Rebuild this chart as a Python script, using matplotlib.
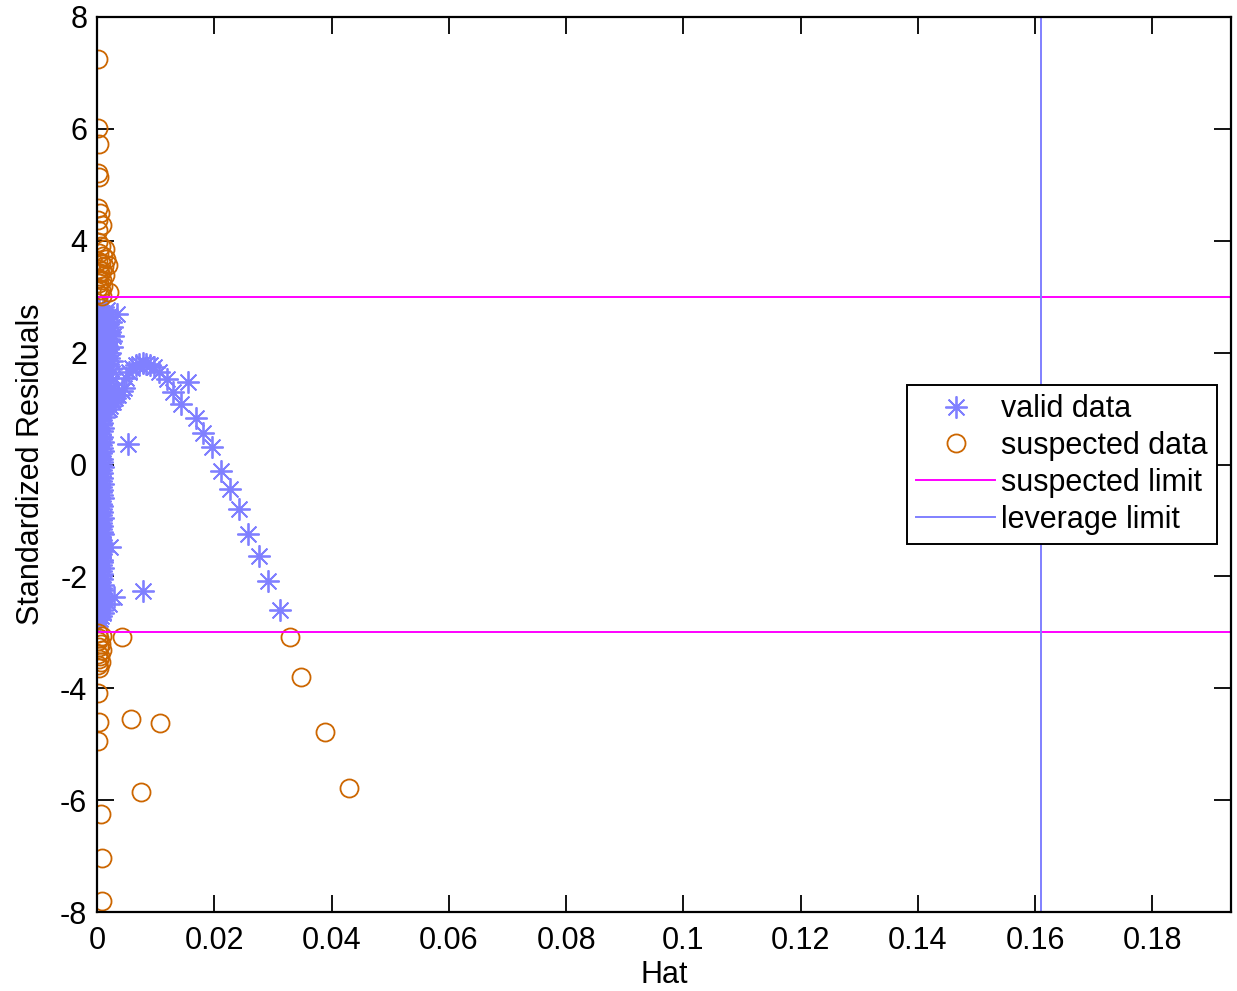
import numpy as np
import matplotlib
matplotlib.use('Agg')
import matplotlib.pyplot as plt
from matplotlib.ticker import FormatStrFormatter

plt.rcParams['font.family'] = ['Liberation Sans', 'DejaVu Sans']
plt.rcParams['axes.unicode_minus'] = False

# dense column of valid points near hat = 0 (residual, outer hat x1e-4, inner hat x1e-4)
col_r = [2.81, 2.76, 2.72, 2.66, 2.61, 2.55, 2.51, 2.45, 2.40, 2.36, 2.30, 2.25, 2.21, 2.15,
         2.10, 2.06, 2.00, 1.95, 1.91, 1.85, 1.80, 1.76, 1.70, 1.65, 1.61, 1.55, 1.50, 1.46,
         1.40, 1.35, 1.31, 1.25, 1.20, 1.16, 1.10, 1.05, 1.00,
         0.95, 0.90, 0.85, 0.80, 0.75, 0.70, 0.65, 0.60, 0.55, 0.50, 0.45, 0.40, 0.35, 0.30,
         0.25, 0.20, 0.15, 0.10, 0.05, 0.00, -0.05, -0.10, -0.15, -0.20, -0.25, -0.30, -0.35,
         -0.40, -0.45, -0.50, -0.55, -0.60, -0.65, -0.70, -0.75, -0.80, -0.85, -0.90, -0.95, -1.00,
         -1.05, -1.10, -1.15, -1.20, -1.25, -1.30, -1.35, -1.40, -1.45, -1.50, -1.55, -1.60,
         -1.65, -1.70, -1.75, -1.80, -1.85, -1.90, -1.95, -2.00, -2.05, -2.10, -2.15, -2.20,
         -2.25, -2.30, -2.35, -2.40, -2.45, -2.50, -2.55, -2.60, -2.65, -2.70, -2.76]
col_h_out = [10, 17, 13, 21, 15, 24, 18, 26, 16, 22, 27, 20, 24, 15, 26, 19, 23, 14, 21, 25,
             18, 20, 24, 16, 22, 19, 15, 21, 17, 23, 20, 16, 22, 26, 19, 15, 21,
             11, 8, 12, 7, 9, 6, 10, 8, 5, 9, 7, 11, 6, 8, 10, 7, 5, 9, 8, 6, 10, 7, 9, 5,
             8, 6, 11, 7, 9, 6, 8, 10, 5, 7, 9, 6, 8, 7, 10, 6,
             7, 9, 6, 8, 10, 5, 7, 9, 6, 8, 11, 7, 5, 9, 8, 6, 10, 7, 9, 6, 8, 5, 10, 7,
             9, 6, 8, 11, 7, 9, 6, 8, 10, 7, 5]
col_h_in = [1, 3, 0, 2, 4, 1, 3, 0, 2, 5, 1, 3, 0, 2, 4, 1, 3, 0, 6, 2, 1, 4, 0, 3, 2, 5,
            1, 0, 3, 2, 4, 1, 0, 3, 2, 5, 1,
            1, 0, 2, 1, 3, 0, 1, 2, 0, 1, 3, 0, 2, 1, 0, 2, 1, 0, 3, 1, 0, 2, 1, 0, 2,
            1, 0, 3, 1, 0, 2, 1, 0, 1, 2, 0, 1, 3, 0, 1,
            0, 1, 2, 0, 1, 3, 0, 2, 1, 0, 2, 1, 0, 3, 1, 0, 2, 1, 0, 1, 2, 0, 1, 3, 0,
            2, 1, 0, 1, 2, 0, 1, 0, 2, 1]

# arc and scattered valid points
arc_h = [0.0034, 0.0022, 0.0029, 0.0020, 0.0022, 0.0027, 0.0031, 0.0036, 0.0042, 0.0046,
         0.0050, 0.0055, 0.0060, 0.0066, 0.0072, 0.0078, 0.0084, 0.0090, 0.0097, 0.0106,
         0.0119, 0.0130, 0.0143, 0.0155, 0.0169, 0.0181, 0.0196, 0.0211, 0.0226, 0.0242,
         0.0258, 0.0276, 0.0292, 0.0312, 0.0053, 0.0078]
arc_r = [2.69, -1.48, -2.36, -2.50, 1.05, 1.12, 1.18, 1.25, 1.31, 1.37,
         1.55, 1.65, 1.72, 1.77, 1.80, 1.81, 1.80, 1.78, 1.74, 1.66,
         1.52, 1.30, 1.09, 1.48, 0.83, 0.57, 0.31, -0.11, -0.43, -0.80,
         -1.24, -1.64, -2.08, -2.60, 0.37, -2.27]

# suspected points
sus_h = [0.0002, 0.0002, 0.0004, 0.0002, 0.0004, 0.0002, 0.0005, 0.0002, 0.0008, 0.0002,
         0.0002, 0.0006, 0.0013, 0.0004, 0.0010, 0.0016, 0.0002, 0.0007, 0.0018, 0.0012,
         0.0003, 0.0009, 0.0005, 0.0014, 0.0002, 0.0008, 0.0004, 0.0011, 0.0002, 0.0006,
         0.0020, 0.0003, 0.0009,
         0.0002, 0.0008, 0.0004, 0.0001, 0.0006, 0.0003, 0.0009, 0.0002, 0.0005, 0.0003,
         0.0007, 0.0002, 0.0004,
         0.0043, 0.0329, 0.0348, 0.0002, 0.0004, 0.0058, 0.0107, 0.0001, 0.0388, 0.0075,
         0.0430, 0.0007, 0.0008, 0.0009]
sus_r = [7.25, 6.02, 5.73, 5.22, 5.14, 4.58, 4.50, 4.37, 4.29, 4.19,
         3.98, 3.90, 3.85, 3.78, 3.72, 3.68, 3.64, 3.60, 3.57, 3.55,
         3.50, 3.46, 3.42, 3.38, 3.33, 3.29, 3.25, 3.20, 3.16, 3.12,
         3.08, 3.05, 3.02,
         -3.02, -3.06, -3.10, -3.15, -3.20, -3.26, -3.32, -3.38, -3.43, -3.48,
         -3.53, -3.58, -3.63,
         -3.09, -3.09, -3.79, -4.09, -4.60, -4.55, -4.62, -4.94, -4.79, -5.85,
         -5.79, -6.25, -7.03, -7.80]

sus_limit = 3
lev_limit = 0.161
xmax = 0.1934

blue = '#8080ff'
orange = '#cc6600'

valid_h = np.concatenate([np.array(col_h_out) * 1e-4, np.array(col_h_in) * 1e-4, arc_h])
valid_r = np.concatenate([col_r, col_r, arc_r])

fig = plt.figure(figsize=(12.37, 9.91), dpi=100)
ax = fig.add_axes([97/1237, 79/991, 1134/1237, 895/991])

ax.plot(valid_h, valid_r, ls='none', marker=(8, 2, 0), ms=16, mew=1.3, color=blue,
        label='valid data')
ax.plot(sus_h, sus_r, ls='none', marker='o', ms=13, mew=1.3, mfc='none', color=orange,
        label='suspected data')
ax.axhline(sus_limit, color='#ff00ff', lw=1.4, label='suspected limit')
ax.axhline(-sus_limit, color='#ff00ff', lw=1.4)
ax.axvline(lev_limit, color=blue, lw=1.4, label='leverage limit')

ax.set_xlim(0, xmax)
ax.set_ylim(-8, 8)
ax.set_xticks(np.arange(0, 0.181, 0.02))
ax.set_yticks(np.arange(-8, 9, 2))
ax.xaxis.set_major_formatter(FormatStrFormatter('%g'))
ax.tick_params(direction='in', top=True, right=True, length=12, width=1.3,
               labelsize=22)
ax.tick_params(axis='x', pad=10)
ax.tick_params(axis='y', pad=7)
for s in ax.spines.values():
    s.set_linewidth(1.6)

ax.set_xlabel('Hat', fontsize=22, labelpad=3)
ax.set_ylabel('Standardized Residuals', fontsize=22, labelpad=10)

leg = ax.legend(loc='center right', fontsize=22, frameon=True, fancybox=False,
                edgecolor='black', framealpha=1, handlelength=2.6, labelspacing=0.22,
                borderpad=0.3, handletextpad=0.2, borderaxespad=0.45)
leg.get_frame().set_linewidth(1.4)

fig.savefig('out.png', dpi=100)
